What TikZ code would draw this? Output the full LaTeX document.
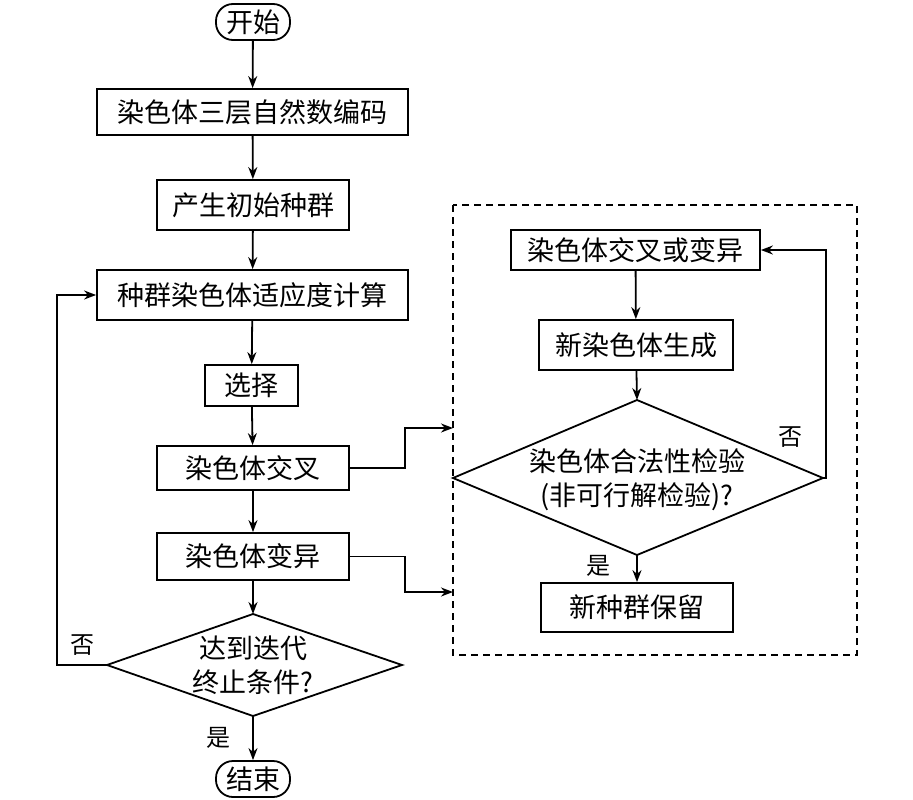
\documentclass[tikz,border=0pt]{standalone}
\usepackage{fontspec}
\setmainfont{Liberation Serif}
\newfontfamily\cjk{Noto Sans CJK SC}
\usetikzlibrary{shapes.geometric,arrows.meta}
\begin{document}
\begin{tikzpicture}[x=1pt,y=-1pt,line width=1.8pt,
  every node/.style={font=\cjk\fontsize{27}{30}\selectfont},
  box/.style={draw,line width=1.8pt,minimum height=#1,inner sep=1pt},
  box/.default=46pt,
  term/.style={draw,line width=1.8pt,rounded corners=17pt,minimum width=74pt,minimum height=36pt,inner sep=1pt},
  arr/.style={-{Stealth[length=12pt,width=9pt]},line width=1.8pt},
  lab/.style={font=\cjk\fontsize{24}{28}\selectfont},
  dtext/.style={align=center,font=\cjk\fontsize{27}{34}\selectfont}]
\useasboundingbox (0,0) rectangle (913,800);
\node[term] (s) at (253,22) {开始};
\node[box,minimum width=311pt] (a) at (252.5,112) {染色体三层自然数编码};
\node[box=50pt,minimum width=192pt] (b) at (253,205) {产生初始种群};
\node[box=50pt,minimum width=311pt] (c) at (252.5,295) {种群染色体适应度计算};
\node[box=41pt,minimum width=93pt] (d) at (251.5,385.5) {选择};
\node[box=44pt,minimum width=192pt] (e) at (253,468) {染色体交叉};
\node[box=47pt,minimum width=192pt] (f) at (253,556.5) {染色体变异};
\coordinate (gl) at (107,665); \coordinate (gr) at (402,665);
\coordinate (gt) at (253,614); \coordinate (gb) at (253,716);
\draw (gl)--(gt)--(gr)--(gb)--cycle;
\node[dtext] (g) at (253,665) {达到迭代\\终止条件?};
\node[term] (t) at (253,779) {结束};
\draw[arr] (s)--(a); \draw[arr] (a)--(b); \draw[arr] (b)--(c);
\draw[arr] (c)--(d); \draw[arr] (d)--(e); \draw[arr] (e)--(f);
\draw[arr] (f)--(gt); \draw[arr] (gb)--(t);
\draw[arr] (gl)--(57,665)--(57,295)--(c.west);
\node[lab] at (82,645) {否};
\node[lab] at (218,738) {是};
% dashed region
\draw[dash pattern=on 7pt off 5pt,line width=1.5pt] (453,205) rectangle (857,655);
\node[box=40pt,minimum width=249pt] (h) at (635.5,250) {染色体交叉或变异};
\node[box=50pt,minimum width=194pt] (i) at (636,345) {新染色体生成};
\coordinate (jl) at (453,478); \coordinate (jr) at (823,478);
\coordinate (jt) at (637,400); \coordinate (jb) at (637,555);
\draw (jl)--(jt)--(jr)--(jb)--cycle;
\node[dtext] (j) at (637,480) {染色体合法性检验\\(非可行解检验)?};
\node[box=49pt,minimum width=192pt] (k) at (637,607.5) {新种群保留};
\draw[arr] (h)--(i); \draw[arr] (i)--(jt); \draw[arr] (jb)--(k);
\draw[arr] (jr)--(826,478)--(826,250)--(h.east);
\node[lab] at (790,437) {否};
\node[lab] at (598,566) {是};
\coordinate (p) at (453,428); \coordinate (q) at (453,592);
\draw[arr] (e.east)--(405,468)--(405,428)--(p);
\draw[arr] (f.east)--(405,556.5)--(405,592)--(q);
\end{tikzpicture}
\end{document}
